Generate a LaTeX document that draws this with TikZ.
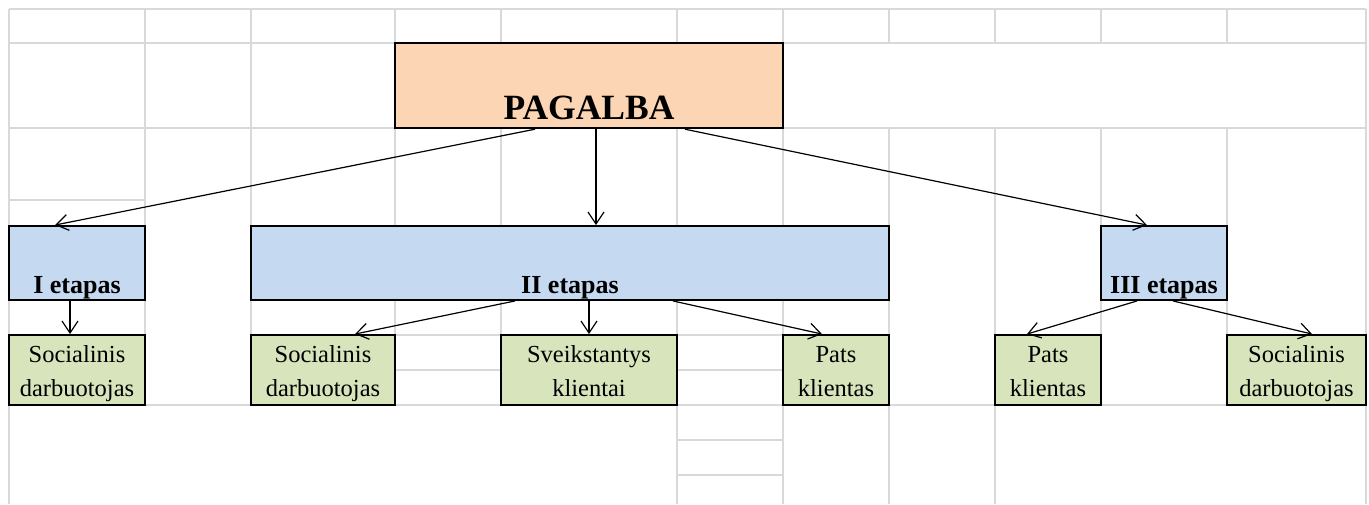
\documentclass[tikz,border=0pt]{standalone}
\usepackage{fontspec}
\setmainfont{Liberation Serif}
\usetikzlibrary{arrows.meta}
\definecolor{gridgray}{HTML}{D9D9D9}
\definecolor{peach}{HTML}{FCD5B4}
\definecolor{stageblue}{HTML}{C5D9F1}
\definecolor{rolegreen}{HTML}{D8E4BC}
\newcommand{\lift}{\rule{0pt}{27pt}}
\newcommand{\sink}{\rule[-8pt]{0pt}{8pt}}
\tikzset{
  gridline/.style={draw=gridgray, line width=1.3pt},
  topbox/.style={draw, line width=2.4pt, fill=peach, text height=75pt, text depth=8pt, inner sep=1pt, font=\bfseries\fontsize{35.5}{40}\selectfont},
  stagebox/.style={draw, line width=1.9pt, fill=stageblue, text height=66pt, text depth=6pt, inner xsep=0pt, inner ysep=1pt, font=\bfseries\fontsize{26}{30}\selectfont},
  rolebox/.style={draw, line width=1.9pt, fill=rolegreen, minimum height=70pt, inner sep=0pt, align=center, font=\fontsize{24.5}{34}\selectfont},
  link/.style={-{Straight Barb[length=12pt,width=16pt]}, line width=1.2pt}
}
\begin{document}
\begin{tikzpicture}[x=1pt,y=-1pt]
\path[use as bounding box, fill=white] (0,0) rectangle (1369,504);
% spreadsheet grid
\draw[gridline] (9,9) -- (1366,9) (9,43) -- (1366,43) (9,128) -- (1366,128) (9,200) -- (145,200)
  (395,335) -- (501,335) (677,335) -- (783,335) (395,370) -- (501,370) (677,370) -- (783,370)
  (9,405) -- (1366,405) (677,440) -- (783,440) (677,475) -- (783,475);
\draw[gridline] (9,9) -- (9,504) (145,9) -- (145,405) (251,9) -- (251,405) (395,9) -- (395,405)
  (501,9) -- (501,405) (677,9) -- (677,504) (783,9) -- (783,504)
  (889,9) -- (889,43) (889,128) -- (889,504) (995,9) -- (995,43) (995,128) -- (995,504)
  (1101,9) -- (1101,43) (1101,128) -- (1101,405) (1227,9) -- (1227,43) (1227,128) -- (1227,335)
  (1366,9) -- (1366,504);
\node[topbox, minimum width=388pt] (pagalba) at (589,85.5) {PAGALBA};
\node[stagebox, minimum width=136pt] (st1) at (77,263) {I etapas};
\node[stagebox, minimum width=638pt] (st2) at (570,263) {II etapas};
\node[stagebox, minimum width=126pt] (st3) at (1164,263) {III etapas};
\node[rolebox, minimum width=136pt] (soc1) at (77,370) {\lift Socialinis\\darbuotojas\sink};
\node[rolebox, minimum width=144pt] (soc2) at (323,370) {\lift Socialinis\\darbuotojas\sink};
\node[rolebox, minimum width=176pt] (sveik) at (589,370) {\lift Sveikstantys\\klientai\sink};
\node[rolebox, minimum width=106pt] (pats1) at (836,370) {\lift Pats\\klientas\sink};
\node[rolebox, minimum width=106pt] (pats2) at (1048,370) {\lift Pats\\klientas\sink};
\node[rolebox, minimum width=139pt] (soc3) at (1296.5,370) {\lift Socialinis\\darbuotojas\sink};
\draw[link] ([xshift=-54pt]pagalba.south) -- ([xshift=-22pt]st1.north);
\draw[link] ([xshift=7pt]pagalba.south) -- ([xshift=26pt]st2.north);
\draw[link] ([xshift=96pt]pagalba.south) -- ([xshift=-17pt]st3.north);
\draw[link] ([xshift=-7pt]st1.south) -- ([xshift=-7pt]soc1.north);
\draw[link] ([xshift=-55pt]st2.south) -- ([xshift=32pt]soc2.north);
\draw[link] ([xshift=19pt]st2.south) -- (sveik.north);
\draw[link] ([xshift=103pt]st2.south) -- ([xshift=-14pt]pats1.north);
\draw[link] ([xshift=-27pt]st3.south) -- ([xshift=-21pt]pats2.north);
\draw[link] ([xshift=9pt]st3.south) -- ([xshift=15.5pt]soc3.north);
\end{tikzpicture}
\end{document}
